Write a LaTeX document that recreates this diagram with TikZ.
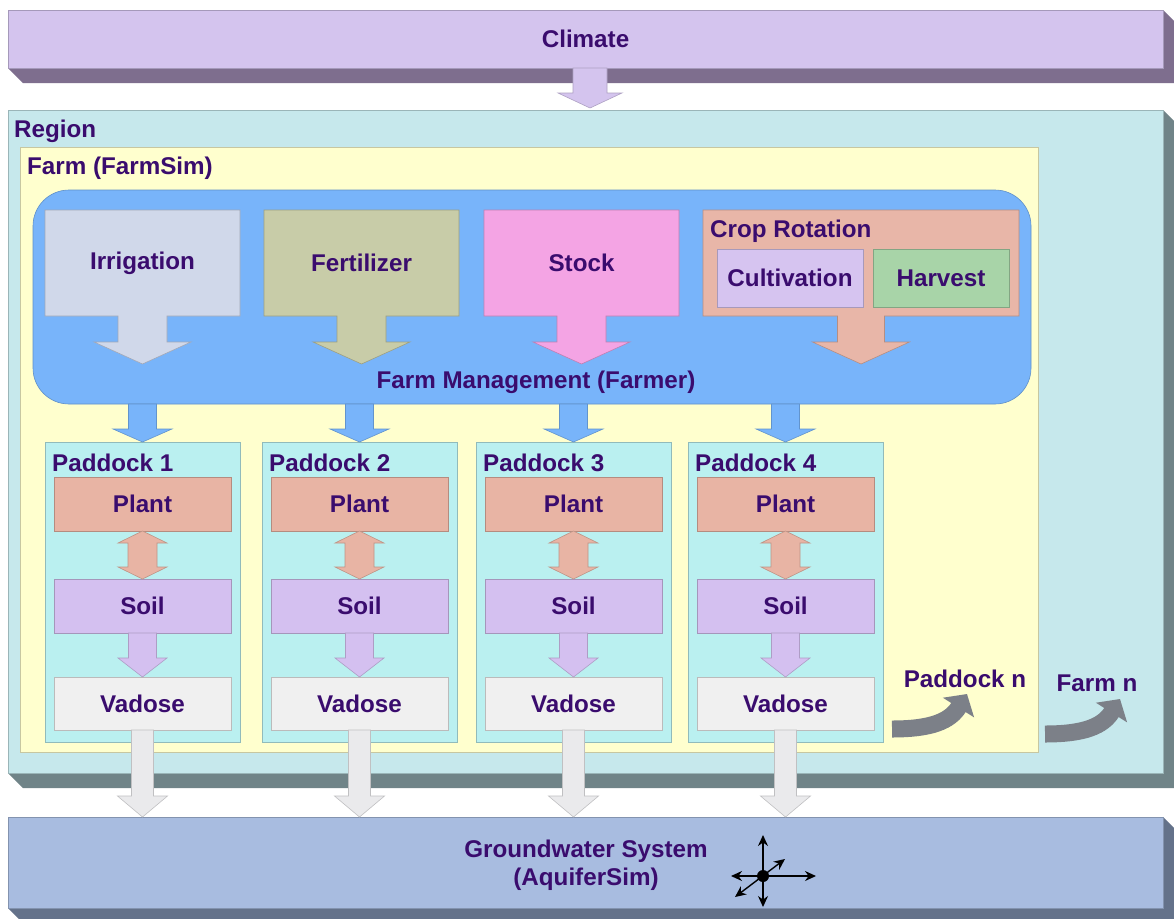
\documentclass[tikz,border=0pt]{standalone}
\usepackage{fontspec}
\setmainfont{Liberation Sans}
\usetikzlibrary{calc,arrows.meta}
\definecolor{txt}{RGB}{58,12,110}
\definecolor{climF}{RGB}{212,196,238}
\definecolor{climS}{RGB}{126,110,142}
\definecolor{regF}{RGB}{198,232,236}
\definecolor{regS}{RGB}{112,132,136}
\definecolor{gwF}{RGB}{168,188,224}
\definecolor{gwS}{RGB}{100,114,138}
\definecolor{farmF}{RGB}{255,255,206}
\definecolor{fmF}{RGB}{120,180,250}
\definecolor{irrF}{RGB}{208,216,234}
\definecolor{ferF}{RGB}{200,204,168}
\definecolor{stoF}{RGB}{244,164,228}
\definecolor{croF}{RGB}{232,182,168}
\definecolor{culF}{RGB}{214,196,240}
\definecolor{harF}{RGB}{168,212,168}
\definecolor{padF}{RGB}{186,240,240}
\definecolor{plaF}{RGB}{232,180,164}
\definecolor{soiF}{RGB}{212,192,240}
\definecolor{vadF}{RGB}{240,240,240}
\definecolor{vadA}{RGB}{234,234,236}
\definecolor{curv}{RGB}{124,128,136}
\tikzset{
  panel/.style={draw=#1!78!black, fill=#1, line width=0.6pt, inner sep=0pt, outer sep=0pt, anchor=north west},
  ghost/.style={inner sep=0pt, outer sep=0pt, anchor=north west},
  lbl/.style={text=txt, font=\fontsize{24.2}{28}\selectfont\bfseries, inner sep=0pt},
  curvarrow/.style={draw=curv, line width=17pt, -{Triangle[width=36pt,length=16pt]}},
  comp/.style={draw=black, line width=1.4pt, -{Stealth[length=11pt,width=10pt]}}
}
% #1 name, #2 colour, #3 x1, #4 y1, #5 x2, #6 y2, #7 text
\newcommand{\rectnode}[7]{\node[panel=#2, lbl, minimum width={(#5-(#3))*1pt}, minimum height={(#6-(#4))*1pt}] (#1) at (#3,#4) {#7};}
\newcommand{\ghostnode}[5]{\path node[ghost, minimum width={(#4-(#2))*1pt}, minimum height={(#5-(#3))*1pt}] (#1) at (#2,#3) {};}
% callout: #1 node, #2 colour, #3 shaft half, #4 head half, #5 head-base depth, #6 tip depth
\newcommand{\callout}[6]{\filldraw[fill=#2, draw=#2!78!black, line width=0.6pt] (#1.north west) -- (#1.north east) -- (#1.south east) -- ($(#1.south)+(#3,0)$) -- ($(#1.south)+(#3,#5)$) -- ($(#1.south)+(#4,#5)$) -- ($(#1.south)+(0,#6)$) -- ($(#1.south)+(-#4,#5)$) -- ($(#1.south)+(-#3,#5)$) -- ($(#1.south)+(-#3,0)$) -- (#1.south west) -- cycle;}
% block arrow down: #1 colour, #2 from, #3 tip, #4 shaft half, #5 head half, #6 head length
\newcommand{\blockdown}[6]{\filldraw[fill=#1, draw=#1!82!black, line width=0.6pt] let \p1=(#2), \p2=(#3) in (\x1-#4pt,\y1) -- (\x1+#4pt,\y1) -- (\x1+#4pt,\y2+#6pt) -- (\x1+#5pt,\y2+#6pt) -- (\x1,\y2) -- (\x1-#5pt,\y2+#6pt) -- (\x1-#4pt,\y2+#6pt) -- cycle;}
% double block arrow: #1 colour, #2 top tip, #3 bottom tip, #4 shaft half, #5 head half, #6 head length
\newcommand{\blockboth}[6]{\filldraw[fill=#1, draw=#1!82!black, line width=0.6pt] let \p1=(#2), \p2=(#3) in (\x1,\y1) -- (\x1+#5pt,\y1-#6pt) -- (\x1+#4pt,\y1-#6pt) -- (\x1+#4pt,\y2+#6pt) -- (\x1+#5pt,\y2+#6pt) -- (\x1,\y2) -- (\x1-#5pt,\y2+#6pt) -- (\x1-#4pt,\y2+#6pt) -- (\x1-#4pt,\y1-#6pt) -- (\x1-#5pt,\y1-#6pt) -- cycle;}
\begin{document}
\begin{tikzpicture}[x=1pt,y=-1pt]
\useasboundingbox (0,0) rectangle (1174,918);
\clip (0,0) rectangle (1174,918);
\fill[white] (0,0) rectangle (1174,918);

% Climate bar
\fill[climS] (8,68) -- (23,83) -- (1178,83) -- (1178,25) -- (1163,10) -- (1163,68) -- cycle;
\rectnode{clim}{climF}{8}{10}{1163}{68}{Climate}
\coordinate (regtop) at (590,108);
\blockdown{climF}{clim.south -| regtop}{regtop}{17}{32}{15}

% Region
\fill[regS] (8,773) -- (23,788) -- (1178,788) -- (1178,125) -- (1163,110) -- (1163,773) -- cycle;
\rectnode{reg}{regF}{8}{110}{1163}{773}{}
\node[lbl, anchor=west] (regl) at (14,131) {Region};

% Farm
\rectnode{farm}{farmF}{20}{147}{1038}{752}{}
\node[lbl, anchor=west] (farml) at (27,168) {Farm (FarmSim)};

% Farm management
\node[draw=fmF!80!black, fill=fmF, line width=0.6pt, rounded corners=36pt, inner sep=0pt, outer sep=0pt, anchor=north west, minimum width=998pt, minimum height=214pt] (fm) at (33,190) {};
\node[lbl] (fml) at (536,382) {Farm Management (Farmer)};

% Management activities
\ghostnode{irr}{45}{210}{240}{316}
\callout{irr}{irrF}{24.5}{48.5}{26}{48}
\node[lbl] (irrt) at (irr.center) {Irrigation};
\ghostnode{fer}{264}{210}{459}{316}
\callout{fer}{ferF}{24.5}{48.5}{26}{48}
\node[lbl] (fert) at (fer.center) {Fertilizer};
\ghostnode{sto}{484}{210}{679}{316}
\callout{sto}{stoF}{24.5}{48.5}{26}{48}
\node[lbl] (stot) at (sto.center) {Stock};
\ghostnode{cro}{703}{210}{1019}{316}
\callout{cro}{croF}{23.5}{48.5}{26}{48}
\node[lbl, anchor=west] (crot) at (710,231) {Crop Rotation};
\rectnode{cul}{culF}{717}{249}{863}{307}{Cultivation}
\rectnode{har}{harF}{873}{249}{1009}{307}{Harvest}

% Groundwater bar
\fill[gwS] (8,908) -- (23,923) -- (1178,923) -- (1178,832) -- (1163,817) -- (1163,908) -- cycle;
\rectnode{gw}{gwF}{8}{817}{1163}{908}{}
\node[lbl, align=center] (gwt) at (586,865) {Groundwater System\\(AquiferSim)};

% Paddocks
\foreach \i/\xa in {1/45, 2/262, 3/476, 4/688} {
  \rectnode{p\i}{padF}{\xa}{442}{\xa+195}{742}{}
  \node[lbl, anchor=west] (pl\i) at (\xa+7,463) {Paddock \i};
  \rectnode{pla\i}{plaF}{\xa+9}{477}{\xa+186}{531}{Plant}
  \rectnode{soi\i}{soiF}{\xa+9}{579}{\xa+186}{633}{Soil}
  \rectnode{vad\i}{vadF}{\xa+9}{677}{\xa+186}{730}{Vadose}
  \blockboth{plaF}{pla\i.south}{soi\i.north}{14.5}{24.5}{12}
  \blockdown{soiF}{soi\i.south}{vad\i.north}{14}{24.5}{19}
  \blockdown{vadA}{vad\i.south}{vad\i.south |- gw.north}{11}{25}{21}
  \blockdown{fmF}{fm.south -| p\i.north}{p\i.north}{14}{29.5}{13}
}

% Paddock n / Farm n
\coordinate (pnS) at (892,729);
\coordinate (pnT) at (967,694);
\draw[curvarrow] (pnS) .. controls (932,729) and (950,721) .. (pnT);
\node[lbl] (pnl) at (965,679) {Paddock n};
\coordinate (fnS) at (1045,734);
\coordinate (fnT) at (1120,699);
\draw[curvarrow] (fnS) .. controls (1085,734) and (1103,726) .. (fnT);
\node[lbl] (fnl) at (1097,683) {Farm n};

% Compass
\coordinate (cc) at (763,876);
\coordinate (cN) at (763,835);
\coordinate (cS) at (763,907);
\coordinate (cW) at (731,876);
\coordinate (cE) at (816,876);
\coordinate (cNE) at (785,859);
\coordinate (cSW) at (735,897);
\draw[comp] (cc) -- (cN);
\draw[comp] (cc) -- (cS);
\draw[comp] (cc) -- (cW);
\draw[comp] (cc) -- (cE);
\draw[comp, {Stealth[length=11pt,width=10pt]}-{Stealth[length=11pt,width=10pt]}] (cSW) -- (cNE);
\node[circle, fill=black, inner sep=0pt, minimum size=12pt] (ccdot) at (cc) {};
\end{tikzpicture}
\end{document}
